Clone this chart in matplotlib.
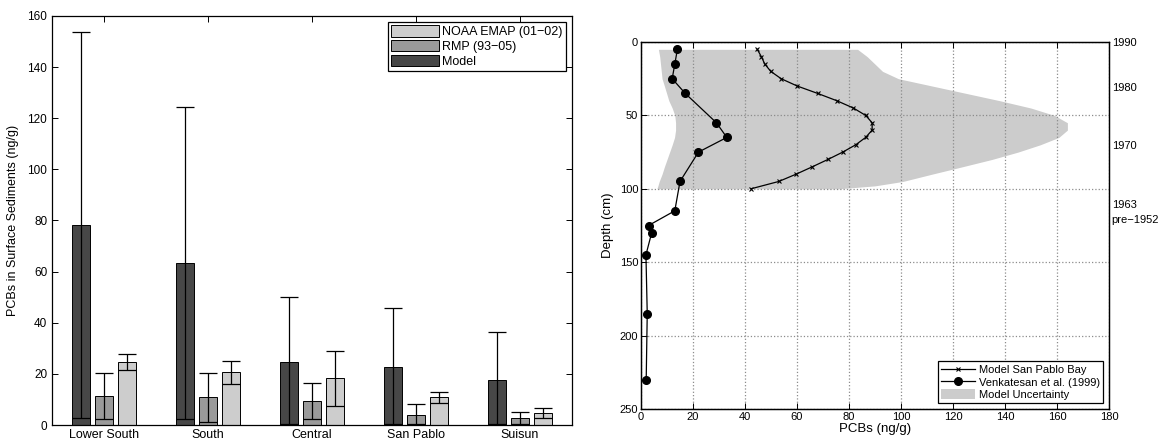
import numpy as np
import matplotlib
matplotlib.use('Agg')
import matplotlib.pyplot as plt

plt.rcParams['font.family'] = ['Liberation Sans', 'DejaVu Sans']
plt.rcParams['axes.linewidth'] = 0.9

# left panel: surface sediment PCBs by region
regions = ['Lower South', 'South', 'Central', 'San Pablo', 'Suisun']
model_val = [78.3, 63.4, 24.8, 22.6, 17.7]
model_lo = [2.9, 2.2, 0.5, 0.5, 0.5]
model_hi = [153.8, 124.5, 50.1, 45.7, 36.3]
rmp_val = [11.3, 10.9, 9.4, 3.9, 2.6]
rmp_lo = [2.2, 1.3, 2.2, 0.3, 0.3]
rmp_hi = [20.3, 20.3, 16.5, 8.3, 5.2]
noaa_val = [24.6, 20.6, 18.3, 10.9, 4.8]
noaa_lo = [21.5, 16.1, 7.4, 8.7, 2.6]
noaa_hi = [27.8, 25.0, 29.1, 12.9, 6.8]

# right panel: sediment core profile
model_depth = [5, 10, 15, 20, 25, 30, 35, 40, 45, 50, 55, 60, 65, 70, 75, 80, 85, 90, 95, 100]
model_pcb = [44.7, 46.3, 47.6, 49.9, 53.9, 60.1, 67.9, 75.3, 81.7, 86.4, 88.9, 88.9,
             86.4, 82.6, 77.6, 71.9, 65.9, 59.7, 53.0, 42.3]
venk_depth = [5, 15, 25, 35, 55, 65, 75, 95, 115, 125, 130, 145, 185, 230]
venk_pcb = [14.0, 13.0, 12.0, 17.0, 29.0, 33.0, 22.1, 15.0, 13.0, 2.9, 4.1, 1.9, 2.4, 2.0]
unc_depth = [5, 10, 20, 25, 30, 40, 45, 50, 55, 60, 65, 70, 75, 80, 85, 90, 95, 98, 100]
unc_low = [6.7, 7.2, 7.8, 8.1, 9.0, 10.7, 12.0, 13.0, 13.3, 13.3, 12.9, 12.0, 11.0, 10.0, 9.0,
           8.1, 7.0, 6.5, 6.1]
unc_high = [83.3, 87.0, 92.9, 99.0, 112.0, 138.0, 150.0, 159.0, 164.0, 164.0, 160.7, 153.6,
            145.0, 135.0, 123.6, 112.0, 100.7, 90.0, 76.0]
year_depth = [0, 30.6, 70.3, 110.6, 120.8]
year_labels = ['1990', '1980', '1970', '1963', 'pre\u22121952']

fig = plt.figure(figsize=(11.61, 4.42), dpi=100)

# ---- left: grouped bars ----
ax1 = fig.add_axes([52 / 1161, 1 - 425 / 442, 520 / 1161, 409 / 442])
x = np.arange(1, len(regions) + 1)
w = 0.18
off = 0.222
ekw = dict(ecolor='black', elinewidth=0.9, capsize=6.5, capthick=0.9)
series = [
    (model_val, model_lo, model_hi, -off, '#474747', 'Model'),
    (rmp_val, rmp_lo, rmp_hi, 0.0, '#9a9a9a', 'RMP (93\u221205)'),
    (noaa_val, noaa_lo, noaa_hi, off, '#cdcdcd', 'NOAA EMAP (01\u221202)'),
]
handles = {}
for vals, lo, hi, dx, col, lab in series:
    vals = np.array(vals)
    yerr = [vals - np.array(lo), np.array(hi) - vals]
    b = ax1.bar(x + dx, vals, width=w, color=col, edgecolor='black', linewidth=0.7,
                label=lab, zorder=2)
    ax1.errorbar(x + dx, vals, yerr=yerr, fmt='none', zorder=3, **ekw)
    handles[lab] = b

ax1.set_xlim(0.5, 5.5)
ax1.set_ylim(0, 160)
ax1.set_xticks(x)
ax1.set_xticklabels(regions, fontsize=9)
ax1.set_yticks(np.arange(0, 161, 20))
ax1.tick_params(direction='in', top=True, right=True, labelsize=8.5, length=4, width=0.7)
ax1.tick_params(axis='x', labelsize=9, pad=3)
ax1.set_ylabel('PCBs in Surface Sediments (ng/g)', fontsize=9, labelpad=6)
order = ['NOAA EMAP (01\u221202)', 'RMP (93\u221205)', 'Model']
leg1 = ax1.legend([handles[k] for k in order], order, loc='upper right', fontsize=9,
                  fancybox=False, edgecolor='black', framealpha=1, borderpad=0.25,
                  handlelength=3.8, handleheight=1.0, handletextpad=0.3, labelspacing=0.15,
                  borderaxespad=0.5)
leg1.get_frame().set_linewidth(0.9)

# ---- right: depth profile ----
ax2 = fig.add_axes([641 / 1161, 1 - 409 / 442, 468 / 1161, 367 / 442])
fill = ax2.fill_betweenx(unc_depth, unc_low, unc_high, color='#cccccc', linewidth=0,
                         zorder=1)
l1, = ax2.plot(model_pcb, model_depth, color='black', marker='x', markersize=3.5,
               linewidth=0.9, markeredgewidth=0.8, zorder=3)
l2, = ax2.plot(venk_pcb, venk_depth, color='black', marker='o', markersize=5.5,
               linewidth=0.9, zorder=3)
ax2.set_xlim(0, 180)
ax2.set_ylim(250, 0)
ax2.set_xticks(np.arange(0, 181, 20))
ax2.set_yticks(np.arange(0, 251, 50))
ax2.grid(True, linestyle=':', color='0.55', linewidth=0.9)
ax2.tick_params(direction='in', top=True, right=True, labelsize=8, length=4, width=0.7, pad=2)
ax2.set_xlabel('PCBs (ng/g)', fontsize=9.5, labelpad=1)
ax2.set_ylabel('Depth (cm)', fontsize=9.5, labelpad=4)
leg2 = ax2.legend([l1, l2, fill],
                  ['Model San Pablo Bay', 'Venkatesan et al. (1999)', 'Model Uncertainty'],
                  loc='lower right', fontsize=8, fancybox=False, edgecolor='black',
                  framealpha=1, borderpad=0.3, handlelength=3.0, handleheight=1.0,
                  handletextpad=0.4, labelspacing=0.15, borderaxespad=0.5)
leg2.get_frame().set_linewidth(0.9)

ax3 = ax2.twinx()
ax3.set_ylim(250, 0)
ax3.set_yticks(year_depth)
ax3.set_yticklabels(year_labels)
ax3.tick_params(axis='y', length=0, pad=2, labelsize=8)

fig.savefig('out.png', dpi=100)
